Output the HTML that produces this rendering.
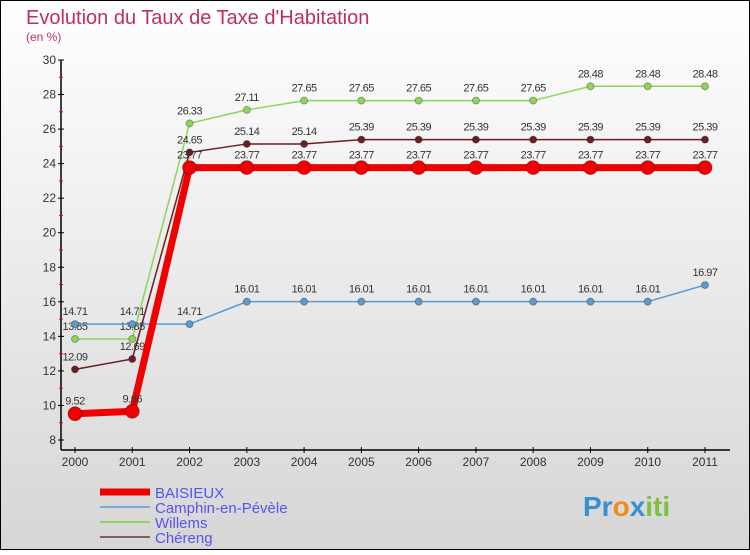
<!DOCTYPE html>
<html><head><meta charset="utf-8"><style>
body{margin:0;width:750px;height:550px;overflow:hidden;font-family:"Liberation Sans",sans-serif}
</style></head><body>
<svg width="750" height="550" xmlns="http://www.w3.org/2000/svg">
<defs><linearGradient id="bg" x1="0" y1="0" x2="0" y2="1"><stop offset="0" stop-color="#ffffff"/><stop offset="1" stop-color="#d6d6d6"/></linearGradient></defs>
<rect x="0.5" y="0.5" width="749" height="549" fill="url(#bg)" stroke="#000"/>
<text x="26" y="24" font-size="20" fill="#c0305a">Evolution du Taux de Taxe d'Habitation</text>
<text x="26" y="41" font-size="12" fill="#c0305a">(en %)</text>
<g id="axes"></g><g id="series"></g><g id="legend"></g>
<text x="583" y="516" font-size="28" font-weight="bold" fill="#3a8fd0">Pr<tspan fill="#f08a1c">o</tspan><tspan fill="#3a8fd0">x</tspan><tspan fill="#7cc242">iti</tspan></text>
</svg>
<script>
const years=["2000","2001","2002","2003","2004","2005","2006","2007","2008","2009","2010","2011"];
const yTicks=[8,10,12,14,16,18,20,22,24,26,28,30];
const baisieux=[9.52,9.66,23.77,23.77,23.77,23.77,23.77,23.77,23.77,23.77,23.77,23.77];
const camphin=[14.71,14.71,14.71,16.01,16.01,16.01,16.01,16.01,16.01,16.01,16.01,16.97];
const willems=[13.85,13.85,26.33,27.11,27.65,27.65,27.65,27.65,27.65,28.48,28.48,28.48];
const chereng=[12.09,12.69,24.65,25.14,25.14,25.39,25.39,25.39,25.39,25.39,25.39,25.39];
const NS="http://www.w3.org/2000/svg";
const x=i=>75+i*(630/11);
const y=v=>440-(v-8)*(380/22);
function mk(p,t,a){const e=document.createElementNS(NS,t);for(const k in a)e.setAttribute(k,a[k]);p.appendChild(e);return e;}
const ax=document.getElementById('axes');
let e=mk(ax,'line',{x1:61,y1:60,x2:61,y2:450,stroke:'#000','stroke-width':1.5});


e=mk(ax,'line',{x1:61,y1:450,x2:730,y2:450,stroke:'#000','stroke-width':1.5});


yTicks.forEach((t,i)=>{
 mk(ax,'line',{x1:58,y1:y(t),x2:64,y2:y(t),stroke:'#000'});
 if(i<yTicks.length-1)mk(ax,'line',{x1:59,y1:y(t+1),x2:63,y2:y(t+1),stroke:'#e00'});
 const l=mk(ax,'text',{x:56,y:y(t)+4,'font-size':12,'text-anchor':'end',fill:'#333'});
 l.textContent=t;
 
 
});
years.forEach((yr,i)=>{
 mk(ax,'line',{x1:x(i),y1:447,x2:x(i),y2:453,stroke:'#000'});
 const l=mk(ax,'text',{x:x(i),y:466,'font-size':12,'text-anchor':'middle',fill:'#333'});
 l.textContent=yr;
 
 
});
const S=document.getElementById('series');
function draw(name,vals,color,w,r,labels){
 const g=mk(S,'g',{});
 
 
 mk(g,'polyline',{points:vals.map((v,i)=>x(i)+','+y(v)).join(' '),fill:'none',stroke:color,'stroke-width':w});
 vals.forEach((v,i)=>{
  const c=mk(g,'circle',{cx:x(i),cy:y(v),r:r,fill:color,stroke:'rgba(0,0,0,0.3)'});
  
  
  const t=mk(g,'text',{x:x(i),y:y(v)-9,'font-size':11,'text-anchor':'middle',fill:'#333','letter-spacing':'-0.5'});
  t.textContent=v.toFixed(2);
  
  
 });
}
draw('willems',willems,'#8ed65a',1.5,3.5);
draw('camphin',camphin,'#5b9bd0',1.5,3.5);
draw('chereng',chereng,'#6b1f22',1.5,3.5);
draw('baisieux',baisieux,'#f00000',7,7);
const L=document.getElementById('legend');
[["BAISIEUX","#f00000",7],["Camphin-en-Pévèle","#7aa8d0",2],["Willems","#8ed65a",2],["Chéreng","#8b5a5a",2]].forEach((d,i)=>{
 const yy=492+i*15;
 const g=mk(L,'g',{});
 
 
 mk(g,'line',{x1:100,y1:yy,x2:150,y2:yy,stroke:d[1],'stroke-width':d[2]});
 const t=mk(g,'text',{x:155,y:yy+6,'font-size':15,fill:'#5555ee'});
 t.textContent=d[0];
});
</script>
</body></html>
